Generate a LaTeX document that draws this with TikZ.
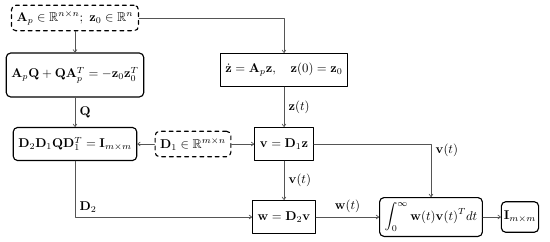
\documentclass[tikz,border=0pt]{standalone}
\usepackage{amsmath,amssymb}
\usetikzlibrary{arrows.meta,positioning}
\definecolor{wire}{HTML}{555555}

\begin{document}
\begin{tikzpicture}[x=0.785pt,y=-0.785pt,line cap=round,line join=round,
    blk/.style={draw,line width=0.9pt,inner xsep=4pt,minimum height=26pt},
    rblk/.style={blk,rounded corners=3.5pt},
    given/.style={rblk,dashed,minimum height=20pt},
    flw/.style={wire,line width=0.55pt,-{To[length=2.5pt,width=3.5pt]}},
    lbl/.style={text=black}]
    \useasboundingbox (0,0) rectangle (550,242);
    \node[given] (data) at (75,18) {$\mathbf{A}_p\in\mathbb{R}^{n\times n};\ \mathbf{z}_0\in\mathbb{R}^n$};
    \node[rblk,minimum height=34.5pt] (lyap) at (75,75) {$\mathbf{A}_p\mathbf{Q}+\mathbf{Q}\mathbf{A}_p^T=-\mathbf{z}_0\mathbf{z}_0^T$};
    \node[blk] (dyn) at (284,70) {$\dot{\mathbf{z}}=\mathbf{A}_p\mathbf{z},\quad\mathbf{z}(0)=\mathbf{z}_0$};
    \node[rblk] (ortho) at (75,144) {$\mathbf{D}_2\mathbf{D}_1\mathbf{Q}\mathbf{D}_1^T=\mathbf{I}_{m\times m}$};
    \node[given] (done) at (193,144) {$\mathbf{D}_1\in\mathbb{R}^{m\times n}$};
    \node[blk] (vout) at (284,144) {$\mathbf{v}=\mathbf{D}_1\mathbf{z}$};
    \node[blk] (wout) at (284,217) {$\mathbf{w}=\mathbf{D}_2\mathbf{v}$};
    \node[rblk,minimum height=30.5pt] (gram) at (431,217) {$\displaystyle\int_0^\infty\mathbf{w}(t)\mathbf{v}(t)^T dt$};
    \node[rblk,minimum height=24pt,inner xsep=2pt] (ident) at (520,217) {$\mathbf{I}_{m\times m}$};

    \draw[flw] (data) -- (lyap);
    \draw[flw] (data.east) -| (dyn.north);
    \draw[flw] (lyap) -- node[lbl,right] {$\mathbf{Q}$} (ortho);
    \draw[flw] (dyn) -- node[lbl,right] {$\mathbf{z}(t)$} (vout);
    \draw[flw] (done) -- (ortho);
    \draw[flw] (done) -- (vout);
    \draw[flw] (vout) -- node[lbl,right] {$\mathbf{v}(t)$} (wout);
    \draw[flw] (vout.east) -| node[lbl,pos=0.56,right] {$\mathbf{v}(t)$} (gram.north);
    \draw[flw] (ortho.south) |- node[lbl,pos=0.5,above right] {$\mathbf{D}_2$} (wout.west);
    \draw[flw] (wout) -- node[lbl,above] {$\mathbf{w}(t)$} (gram);
    \draw[flw] (gram) -- (ident);
\end{tikzpicture}
\end{document}
